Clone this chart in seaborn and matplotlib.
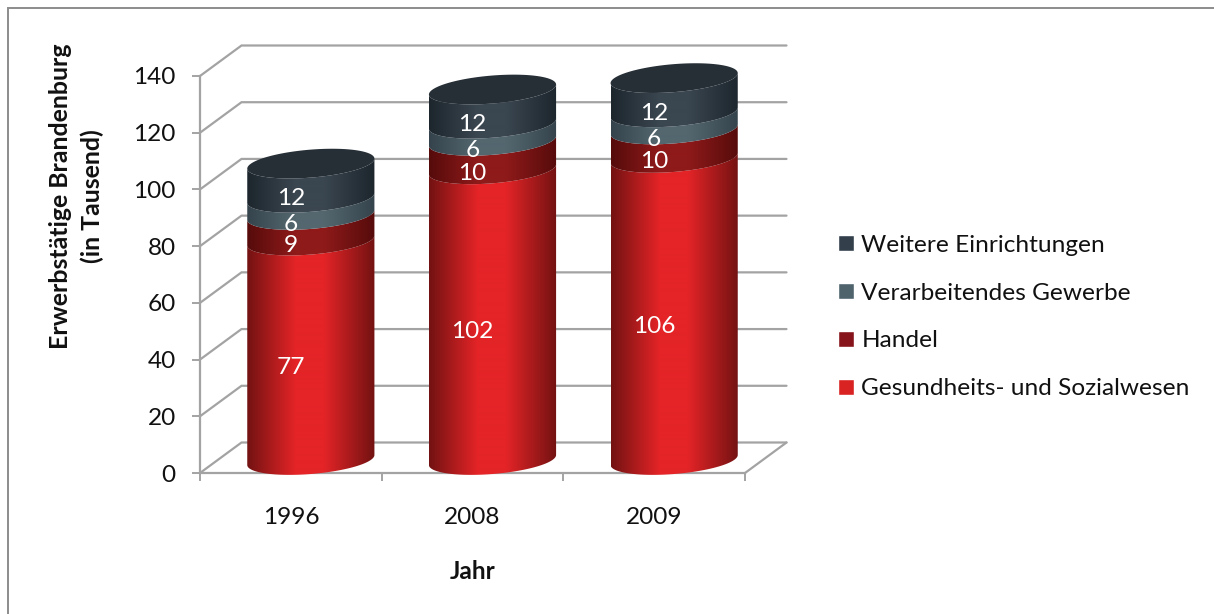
#!/usr/bin/env python3
"""Stacked cylinder chart: Erwerbstaetige Brandenburg, faked 3D on a 2D axes."""

import numpy as np
import matplotlib
matplotlib.use("Agg")
import matplotlib.pyplot as plt
import seaborn as sns
from matplotlib.colors import LinearSegmentedColormap
from matplotlib.patches import Patch, PathPatch
from matplotlib.path import Path

# ── Data ──────────────────────────────────────────────────────
YEARS = ["1996", "2008", "2009"]
GESUNDHEIT = [77, 102, 106]
HANDEL = [9, 10, 10]
GEWERBE = [6, 6, 6]
WEITERE = [12, 12, 12]
SERIES_NAMES = ["Gesundheits- und Sozialwesen", "Handel",
                "Verarbeitendes Gewerbe", "Weitere Einrichtungen"]
Y_TICKS = [0, 20, 40, 60, 80, 100, 120, 140]

# Colours: (edge of the cylinder, middle of the cylinder, legend swatch)
SHADES = [
    ("#731212", "#e42427", "#d92222"),
    ("#560b0b", "#8f1a1a", "#86141a"),
    ("#35444c", "#54676f", "#4f636d"),
    ("#1d262d", "#3a4650", "#333f4b"),
]
CAP_COLOR = "#262e36"
GRID_COLOR = "#a3a3a3"
TEXT_COLOR = "#111111"
FONT_SIZE = 17.6

# ── Fake 3D geometry, all in data units ───────────────────────
W, H = 1214, 614
AX_L, AX_R, AX_T, AX_B = 200, 745, 76, 473   # front plane, in pixels
PX_X = (AX_R - AX_L) / 3.0                   # pixels per category
PX_Y = (AX_B - AX_T) / 140.0                 # pixels per value unit

DEPTH_X = 41.5 / PX_X      # back wall offset
DEPTH_Y = 30.5 / PX_Y
CYL_DX = 20.0 / PX_X       # cylinder axis offset from the front plane
CYL_DY = 13.0 / PX_Y
CYL_SCALE = 1.005
ELL_B = 14.0 / PX_Y        # half height of the ellipse
ELL_TILT = 5.0 / PX_Y      # ellipse rises towards the right
LABEL_DROP = 3.5 / PX_Y    # value labels sit a little below the segment middle


def front_arc(cx, half_w, level, reverse=False):
    """Front half of the tilted ellipse at a given value, left to right."""
    t = np.linspace(np.pi, 0, 60)
    xs = cx + half_w * np.cos(t)
    ys = CYL_DY + level * CYL_SCALE - ELL_B * np.sin(t) + ELL_TILT * np.cos(t)
    pts = np.column_stack([xs, ys])
    return pts[::-1] if reverse else pts


def shaded_patch(ax, verts, cmap, x0, x1, zorder):
    """Fill a closed outline with a horizontal gradient."""
    patch = PathPatch(Path(np.vstack([verts, verts[:1]])), facecolor="none",
                      edgecolor="none", transform=ax.transData, zorder=zorder)
    ax.add_patch(patch)
    im = ax.imshow(np.linspace(0, 1, 256).reshape(1, -1), cmap=cmap, vmin=0, vmax=1,
                   extent=[x0, x1, -10, 170], aspect="auto",
                   interpolation="bilinear", zorder=zorder)
    im.set_clip_path(patch)
    im.set_clip_box(ax.figure.bbox)


# ── Figure ────────────────────────────────────────────────────
sns.set_style("white")
plt.rcParams["font.family"] = ["Lato", "DejaVu Sans"]

fig = plt.figure(figsize=(W / 100, H / 100), dpi=100)
ax = fig.add_axes([AX_L / W, 1 - AX_B / H, (AX_R - AX_L) / W, (AX_B - AX_T) / H])

# Outer chart frame: only top and left are inside the picture
fig.add_artist(plt.Line2D([8 / W, 8 / W, 1], [0, 1 - 8 / H, 1 - 8 / H],
                          transform=fig.transFigure, color="#8c8c8c", lw=1.4,
                          solid_joinstyle="miter"))

# Stacked bars give the scale and the geometry of each cylinder segment
columns = [GESUNDHEIT, HANDEL, GEWERBE, WEITERE]
bottoms = np.zeros(len(YEARS))
for vals in columns:
    sns.barplot(x=YEARS, y=vals, bottom=bottoms, width=0.7, color="white", ax=ax)
    bottoms = bottoms + np.array(vals)

n_seg = len(columns)
rects = list(ax.patches)
ax.autoscale(False)
ax.set_xlim(-0.5, 2.5)
ax.set_ylim(0, 140)

# Walls and floor
for v in Y_TICKS:
    ax.plot([-0.5, -0.5 + DEPTH_X, 2.5 + DEPTH_X], [v, v + DEPTH_Y, v + DEPTH_Y],
            color=GRID_COLOR, lw=1.6, clip_on=False, zorder=1, solid_joinstyle="miter")
ax.plot([2.5, 2.5 + DEPTH_X], [0, DEPTH_Y], color=GRID_COLOR, lw=1.6, clip_on=False, zorder=1)

# Cylinders
for s, (edge, mid, _) in enumerate(SHADES):
    cmap = LinearSegmentedColormap.from_list(
        f"cyl{s}", [(0, edge), (0.38, mid), (0.6, mid), (1, edge)])
    for i in range(len(YEARS)):
        r = rects[s * len(YEARS) + i]
        r.set_visible(False)
        half_w = r.get_width() / 2
        cx = r.get_x() + half_w + CYL_DX
        lo, hi = r.get_y(), r.get_y() + r.get_height()
        verts = np.vstack([front_arc(cx, half_w, hi),
                           front_arc(cx, half_w, lo, reverse=True)])
        shaded_patch(ax, verts, cmap, cx - half_w, cx + half_w, 3)

        # value label sits on the front plane, in the middle of its segment
        ax.text(r.get_x() + half_w, (lo + hi) / 2 - LABEL_DROP, str(columns[s][i]),
                color="white", fontsize=FONT_SIZE, ha="center", va="center",
                zorder=6, clip_on=False)

        # lid on the top segment
        if s == n_seg - 1:
            t = np.linspace(0, 2 * np.pi, 120)
            ax.fill(cx + half_w * np.cos(t),
                    CYL_DY + hi * CYL_SCALE - ELL_B * np.sin(t) + ELL_TILT * np.cos(t),
                    color=CAP_COLOR, clip_on=False, zorder=4, lw=0)

ax.set_xlim(-0.5, 2.5)
ax.set_ylim(0, 140)

# Axes
sns.despine(ax=ax, top=True, right=True)
for side in ("left", "bottom"):
    ax.spines[side].set_color(GRID_COLOR)
    ax.spines[side].set_linewidth(1.6)
    ax.spines[side].set_zorder(2)
ax.patch.set_alpha(0)
ax.set_yticks(Y_TICKS)
ax.set_xticks([-0.5, 0.5, 1.5, 2.5], minor=True)
ax.tick_params(axis="y", which="major", left=True, length=5.5, width=1.4, color=GRID_COLOR,
               labelsize=FONT_SIZE, labelcolor=TEXT_COLOR, pad=12)
ax.tick_params(axis="x", which="minor", bottom=True, length=5.5, width=1.4, color=GRID_COLOR)
ax.tick_params(axis="x", which="major", bottom=False, labelsize=FONT_SIZE,
               labelcolor=TEXT_COLOR, pad=21)
for lab in ax.get_yticklabels():
    lab.set_verticalalignment("center_baseline")

ax.set_ylabel("Erwerbstätige Brandenburg\n(in Tausend)", fontsize=17.9, fontweight="bold",
              color=TEXT_COLOR, linespacing=1.45)
ax.yaxis.set_label_coords((104 - AX_L) / (AX_R - AX_L), (AX_B - 196) / (AX_B - AX_T))
ax.set_xlabel("Jahr", fontsize=FONT_SIZE, fontweight="bold", color=TEXT_COLOR)
ax.xaxis.set_label_coords(0.5, (AX_B - 560) / (AX_B - AX_T))

# Legend, top entry is the top of the stack
handles = [Patch(facecolor=SHADES[s][2], label=SERIES_NAMES[s]) for s in range(n_seg)][::-1]
fig.legend(handles=handles, loc="center left", bbox_to_anchor=(826 / W, 1 - 317 / H),
           frameon=False, fontsize=FONT_SIZE, labelcolor=TEXT_COLOR, handlelength=0.65,
           handleheight=0.65, handletextpad=0.3, labelspacing=1.1, borderpad=0)

fig.savefig("out.png", dpi=100, facecolor="white")
plt.close(fig)
